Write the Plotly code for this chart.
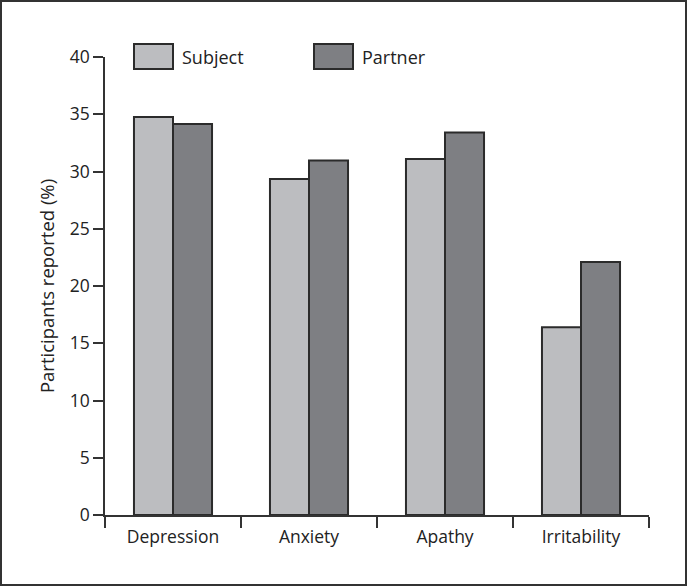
import plotly.graph_objects as go

categories = ["Depression", "Anxiety", "Apathy", "Irritability"]
series_names = ["Subject", "Partner"]
subject_values = [34.75, 29.35, 31.1, 16.4]
partner_values = [34.15, 30.95, 33.4, 22.1]
y_ticks = [0, 5, 10, 15, 20, 25, 30, 35, 40]
colors = ["#bcbdc0", "#7e7f83"]
outline = "#2b2b2b"
font_family = "Open Sans"

W, H = 687, 586
ml, mr, mt, mb = 105, 38, 57, 71
pw, ph = W - ml - mr, H - mt - mb

fig = go.Figure()
for name, vals, col in zip(series_names, [subject_values, partner_values], colors):
    fig.add_trace(go.Bar(
        x=categories, y=vals, name=name,
        marker=dict(color=col, line=dict(color=outline, width=2)),
        showlegend=False,
    ))

fig.update_layout(
    width=W, height=H,
    margin=dict(l=ml, r=mr, t=mt, b=mb, pad=0),
    paper_bgcolor="white", plot_bgcolor="white",
    barmode="group", bargap=0.426, bargroupgap=0,
    font=dict(family=font_family, size=17.5, color="#222"),
)
fig.update_xaxes(
    showline=True, linecolor="#333", linewidth=1.5,
    ticks="outside", tickson="boundaries", ticklen=11, tickcolor="#333", tickwidth=1.5,
    showgrid=False, tickfont=dict(size=17.5), ticklabelstandoff=5,
)
fig.update_yaxes(
    range=[0, 40], tickvals=y_ticks, showline=True, linecolor="#333", linewidth=1.5,
    ticks="outside", ticklen=10, tickcolor="#333", tickwidth=1.5,
    showgrid=False, zeroline=False, tickfont=dict(size=17.5),
    title=dict(text="Participants reported (%)", font=dict(size=18.5), standoff=10),
)

# legend drawn manually (swatch boxes + labels)
legend_x = [134, 314]
for i, (name, col) in enumerate(zip(series_names, colors)):
    x0 = (legend_x[i] - ml) / pw
    x1 = (legend_x[i] + 39 - ml) / pw
    y0 = 1 + (mt - 69) / ph
    y1 = 1 + (mt - 44) / ph
    fig.add_shape(type="rect", xref="paper", yref="paper", x0=x0, x1=x1, y0=y0, y1=y1,
                  fillcolor=col, line=dict(color=outline, width=2))
    fig.add_annotation(xref="paper", yref="paper", x=(legend_x[i] + 46 - ml) / pw,
                       y=1 + (mt - 56.5) / ph, text=name, showarrow=False,
                       xanchor="left", yanchor="middle", font=dict(size=18, color="#222"))

# outer frame
fig.add_shape(type="rect", xref="paper", yref="paper",
              x0=(1 - ml) / pw, x1=1 + (mr - 1) / pw,
              y0=(1 - mb) / ph, y1=1 + (mt - 1) / ph,
              line=dict(color="#333", width=2), fillcolor="rgba(0,0,0,0)")

fig.write_html("out.html", config={"displayModeBar": False},
               post_script="document.body.style.margin='0';")
